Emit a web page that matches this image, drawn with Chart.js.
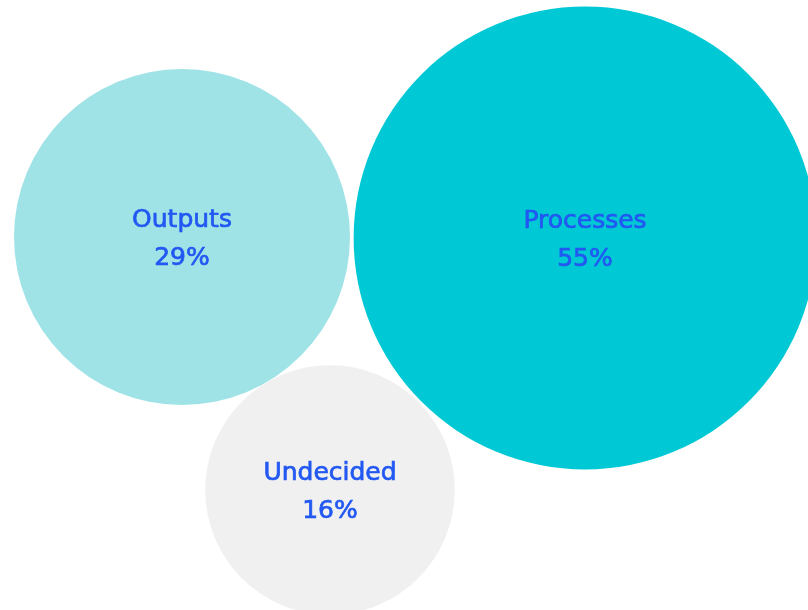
<!DOCTYPE html>
<html>
<head>
<meta charset="utf-8">
<script src="https://cdn.jsdelivr.net/npm/chart.js@4/dist/chart.umd.min.js"></script>
<style>
  html, body { margin: 0; padding: 0; background: #ffffff; }
  #wrap { width: 808px; height: 610px; position: relative; }
</style>
</head>
<body>
<div id="wrap"><canvas id="bubbles"></canvas></div>
<script>
// share of answers per group
const categories = ['Outputs', 'Processes', 'Undecided'];
const shares = [29, 55, 16];

// where each bubble sits on the canvas (px)
const centers = [[182, 237], [585, 238], [330, 490]];
const colors = ['#9fe3e7', '#00c9d5', '#f0f0f0'];
const radiusScale = 31.2; // px per sqrt(percent)

const points = shares.map((v, i) => ({
    x: centers[i][0],
    y: centers[i][1],
    r: radiusScale * Math.sqrt(v)
}));

// writes name + percent in the middle of every bubble
const bubbleLabels = {
    id: 'bubbleLabels',
    afterDatasetsDraw(chart) {
        const ctx = chart.ctx;
        const meta = chart.getDatasetMeta(0);
        ctx.save();
        ctx.fillStyle = '#2258f2';
        ctx.strokeStyle = '#2258f2';
        ctx.lineWidth = 0.7;
        ctx.font = '25px "DejaVu Sans", sans-serif';
        ctx.textAlign = 'center';
        ctx.textBaseline = 'alphabetic';
        meta.data.forEach((el, i) => {
            const lines = [categories[i], shares[i] + '%'];
            ctx.fillText(lines[0], el.x, el.y - 10);
            ctx.strokeText(lines[0], el.x, el.y - 10);
            ctx.fillText(lines[1], el.x, el.y + 28);
            ctx.strokeText(lines[1], el.x, el.y + 28);
        });
        ctx.restore();
    }
};

new Chart(document.getElementById('bubbles'), {
    type: 'bubble',
    data: {
        labels: categories,
        datasets: [{
            data: points,
            backgroundColor: colors,
            borderWidth: 0,
            hoverBorderWidth: 0,
            clip: false
        }]
    },
    options: {
        responsive: true,
        maintainAspectRatio: false,
        animation: false,
        layout: { padding: 0, autoPadding: false },
        plugins: { legend: { display: false }, tooltip: { enabled: false } },
        scales: {
            x: { type: 'linear', min: 0, max: 808, display: false },
            y: { type: 'linear', min: 0, max: 610, reverse: true, display: false }
        }
    },
    plugins: [bubbleLabels]
});
</script>
</body>
</html>
